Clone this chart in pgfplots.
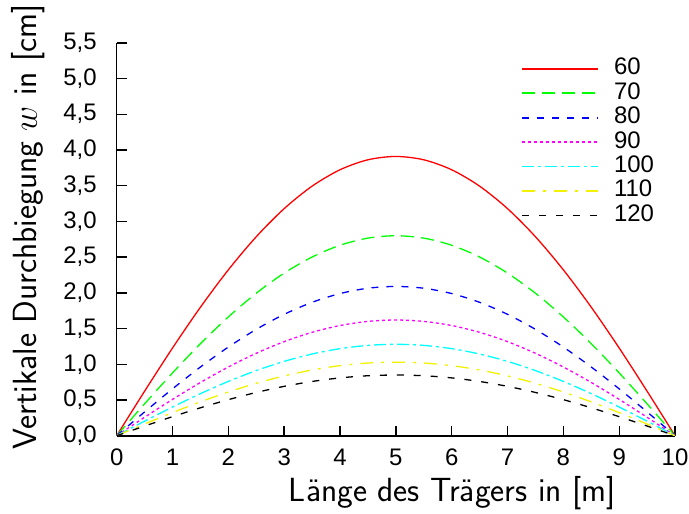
\documentclass[border=0pt]{standalone}
\usepackage{pgfplots}
\pgfplotsset{compat=1.18}
\usepackage{pgfplotstable}
\usepackage{fontspec}
\setmainfont{Liberation Sans}
\pgfplotstableread{
x a60 a70 a80 a90 a100 a110 a120
0 0 0 0 0 0 0 0
0.5 0.62255 0.44582 0.33277 0.25794 0.20380 0.16400 0.13534
1 1.22743 0.87898 0.65609 0.50855 0.40182 0.32334 0.26683
1.5 1.79868 1.28806 0.96144 0.74523 0.58883 0.47382 0.39102
2 2.32223 1.66298 1.24129 0.96215 0.76022 0.61174 0.50483
2.5 2.78588 1.99500 1.48913 1.15425 0.91200 0.73388 0.60563
3 3.17930 2.27674 1.69942 1.31725 1.04079 0.83751 0.69115
3.5 3.49405 2.50214 1.86767 1.44766 1.14383 0.92043 0.75958
4 3.72357 2.66650 1.99035 1.54276 1.21897 0.98089 0.80947
4.5 3.86316 2.76646 2.06496 1.60059 1.26467 1.01766 0.83982
5 3.91 2.80 2.09 1.62 1.28 1.03 0.85
5.5 3.86316 2.76646 2.06496 1.60059 1.26467 1.01766 0.83982
6 3.72357 2.66650 1.99035 1.54276 1.21897 0.98089 0.80947
6.5 3.49405 2.50214 1.86767 1.44766 1.14383 0.92043 0.75958
7 3.17930 2.27674 1.69942 1.31725 1.04079 0.83751 0.69115
7.5 2.78588 1.99500 1.48913 1.15425 0.91200 0.73388 0.60563
8 2.32223 1.66298 1.24129 0.96215 0.76022 0.61174 0.50483
8.5 1.79868 1.28806 0.96144 0.74523 0.58883 0.47382 0.39102
9 1.22743 0.87898 0.65609 0.50855 0.40182 0.32334 0.26683
9.5 0.62255 0.44582 0.33277 0.25794 0.20380 0.16400 0.13534
10 0 0 0 0 0 0 0
}\data
\definecolor{lgreen}{rgb}{0,1,0}
\definecolor{lyellow}{rgb}{0.95,0.95,0}
\definecolor{lmag}{rgb}{1,0,1}
\definecolor{lcyan}{rgb}{0,1,1}
\begin{document}
\begin{tikzpicture}
\begin{axis}[
  name=ax,
  scale only axis,
  width=280pt, height=197pt,
  xmin=0, xmax=10, ymin=0, ymax=5.5,
  axis lines=left,
  axis line style={-, line width=0.8pt},
  tick style={line width=0.7pt, black},
  major tick length=5pt,
  tick align=inside,
  xtick={0,1,...,10},
  ytick={0,0.5,...,5.5},
  /pgf/number format/assume math mode=true,
  yticklabel style={/pgf/number format/use comma, /pgf/number format/fixed, /pgf/number format/fixed zerofill, /pgf/number format/precision=1, xshift=-6.5pt},
  ticklabel style={font=\fontsize{12}{14}\selectfont},
  xticklabel style={yshift=-3pt},
  xlabel={\sffamily Länge des Trägers in [m]},
  ylabel={\sffamily Vertikale Durchbiegung $w$ in [cm]},
  label style={font=\fontsize{16.8}{19}\selectfont, inner sep=2.5pt},
  xlabel style={at={(axis description cs:0.601,-0.1675)}, anchor=base},
  ylabel style={at={(axis description cs:-0.143,0.532)}, anchor=base},
  legend style={draw=none, fill=none, at={(axis description cs:0.725,0.965)}, anchor=north west,
    inner sep=0pt, outer sep=0pt,
    font=\fontsize{12}{14}\selectfont, row sep=0pt,
    nodes={inner sep=0pt, text height=9.1pt, text depth=3.15pt}},
  legend cell align=left,
  legend image code/.code={\draw[#1, line width=0.9pt] (0pt,0pt) -- (38pt,0pt);},
  every axis plot/.append style={line width=0.65pt},
]
\addplot[color=red, smooth] table[x=x, y=a60] {\data};
\addlegendentry{\hspace{7.5pt}60}
\addplot[color=lgreen, smooth, dash pattern=on 6.5pt off 3.5pt] table[x=x, y=a70] {\data};
\addlegendentry{\hspace{7.5pt}70}
\addplot[color=blue, smooth, dash pattern=on 3.5pt off 4pt] table[x=x, y=a80] {\data};
\addlegendentry{\hspace{7.5pt}80}
\addplot[color=lmag, smooth, dash pattern=on 1.5pt off 1.5pt] table[x=x, y=a90] {\data};
\addlegendentry{\hspace{7.5pt}90}
\addplot[color=lcyan, smooth, dash pattern=on 6pt off 2pt on 1.5pt off 2pt] table[x=x, y=a100] {\data};
\addlegendentry{\hspace{7.5pt}100}
\addplot[color=lyellow, smooth, dash pattern=on 6.5pt off 4pt on 1.5pt off 4pt] table[x=x, y=a110] {\data};
\addlegendentry{\hspace{7.5pt}110}
\addplot[color=black, smooth, dash pattern=on 3.5pt off 5pt] table[x=x, y=a120] {\data};
\addlegendentry{\hspace{7.5pt}120}
\end{axis}
\pgfresetboundingbox
\path (ax.south west) ++(-58.5pt,-39pt) rectangle ([shift={(7pt,21.5pt)}]ax.north east);
\end{tikzpicture}
\end{document}
